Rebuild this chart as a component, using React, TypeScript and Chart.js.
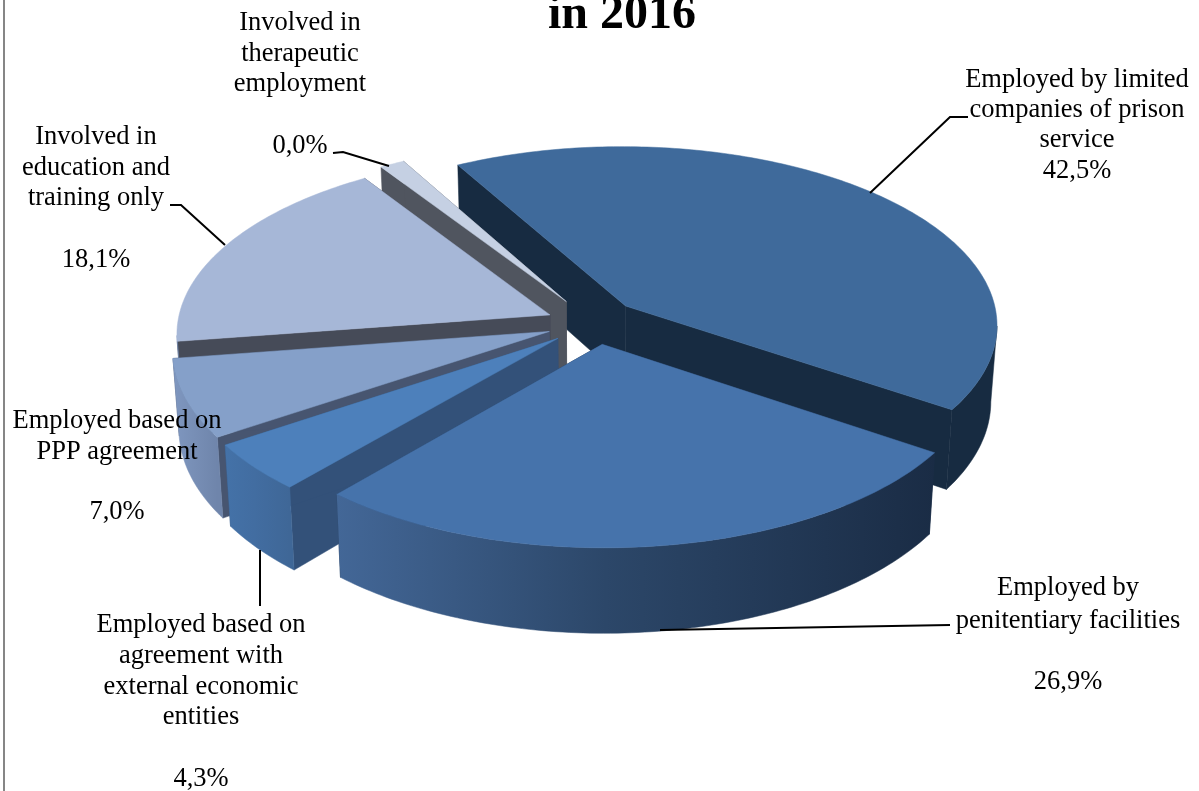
import React, { useEffect, useRef } from "react";
import { Chart, registerables } from "chart.js";
Chart.register(...registerables);

const categories = [
  "Employed by limited companies of prison service",
  "Employed by penitentiary facilities",
  "Employed based on agreement with external economic entities",
  "Employed based on PPP agreement",
  "Involved in education and training only",
  "Involved in therapeutic employment",
];
const sliceValues = [42.5, 26.9, 4.3, 7.0, 18.1, 1.2];
const shareLabels = ["42,5%", "26,9%", "4,3%", "7,0%", "18,1%", "0,0%"];
const explosions = [15.5, 12, 10, 10, 10, 15];
const titleText = "in 2016";

const topColors = ["#3f6a9b", "#4673ab", "#4d80bb", "#85a0c9", "#a6b7d7", "#c5d0e3"];
const radialColors = ["#172b41", "#1b2e48", "#335179", "#475570", "#464b58", "#50555f"];
const wallLeft = ["#172b41", "#436797", "#4472a8", "#7f97c0", "#7f97c0", "#50555f"];
const wallMid = ["#172b41", "#2c4769", "#426da1", "#788fb6", "#788fb6", "#50555f"];
const wallRight = ["#172b41", "#1a2c45", "#3f6797", "#6f85ab", "#6f85ab", "#50555f"];
const drawOrder = [0, 5, 4, 3, 2, 1];
const nudgeU = [-0.004, 0.03, 0.003, -0.002, -0.003, 0.027];
const nudgeV = [0.002, 0.012, -0.008, 0, 0.016, 0.004];

const CX = 585, CY = 325, RX = 373, RY = 179, PERSP = 0.1, DEPTH = 76, SHRINK = 0.985;

const labelBlocks = [
  { x: 1077, lines: ["Employed by limited", "companies of prison", "service", shareLabels[0]], ys: [87, 117, 147, 178] },
  { x: 1068, lines: ["Employed by", "penitentiary facilities", shareLabels[1]], ys: [595, 628, 689] },
  { x: 201, lines: ["Employed based on", "agreement with", "external economic", "entities", shareLabels[2]], ys: [632, 663, 694, 724, 786] },
  { x: 117, lines: ["Employed based on", "PPP agreement", shareLabels[3]], ys: [428, 459, 519] },
  { x: 96, lines: ["Involved in", "education and", "training only", shareLabels[4]], ys: [144, 175, 205, 267] },
  { x: 300, lines: ["Involved in", "therapeutic", "employment", shareLabels[5]], ys: [30, 61, 91, 153] },
];
const leaders = [
  [[870, 193], [950, 117], [968, 117]],
  [[660, 630], [950, 625]],
  [[260, 550], [260, 606]],
  [[170, 205], [181, 205], [225, 245]],
  [[333, 153], [343, 152], [389, 166]],
];

function project(u: number, v: number, bottom: boolean) {
  const w = 1 + PERSP * v;
  let x = CX + (RX * u) / w;
  let y = CY - (RY * v) / w;
  if (bottom) {
    x = CX + (x - CX) * SHRINK;
    y += DEPTH / w;
  }
  return [x, y];
}

const pie3d = {
  id: "pie3d",
  beforeDatasetDraw(chart: any) {
    const ctx = chart.ctx;
    const arcs = chart.getDatasetMeta(0).data;
    for (const i of drawOrder) {
      const arc = arcs[i];
      const { startAngle: a0, endAngle: a1 } = arc.getProps(["startAngle", "endAngle"], true);
      const mid = (a0 + a1) / 2;
      const e = arc.options.offset / 100;
      const ox = e * Math.cos(mid) + nudgeU[i], oy = -e * Math.sin(mid) + nudgeV[i];
      const at = (a: number, r: number, b: boolean) =>
        project(ox + r * Math.cos(a), oy - r * Math.sin(a), b);
      const poly = (pts: number[][], fill: any) => {
        ctx.beginPath();
        pts.forEach((p, k) => (k ? ctx.lineTo(p[0], p[1]) : ctx.moveTo(p[0], p[1])));
        ctx.closePath();
        ctx.fillStyle = fill;
        ctx.fill();
        ctx.strokeStyle = fill;
        ctx.lineWidth = 0.5;
        ctx.stroke();
      };
      const steps = Math.max(4, Math.ceil((a1 - a0) * 60));
      const arcPts = (b: boolean) => {
        const out = [];
        for (let s = 0; s <= steps; s++) out.push(at(a0 + ((a1 - a0) * s) / steps, 1, b));
        return out;
      };
      const topArc = arcPts(false), botArc = arcPts(true);
      // radial walls
      poly([at(a0, 0, false), at(a0, 1, false), at(a0, 1, true), at(a0, 0, true)], radialColors[i]);
      poly([at(a1, 0, false), at(a1, 1, false), at(a1, 1, true), at(a1, 0, true)], radialColors[i]);
      // outer wall: only the stretch of the rim that faces the viewer
      let first = -1, last = -1;
      for (let s = 0; s < steps; s++) {
        if (topArc[s + 1][0] < topArc[s][0]) {
          if (first < 0) first = s;
          last = s + 1;
        }
      }
      if (first >= 0) {
        const t = topArc.slice(first, last + 1);
        const b = botArc.slice(first, last + 1).reverse();
        const xs = t.map((p) => p[0]);
        const g = ctx.createLinearGradient(Math.min(...xs), 0, Math.max(...xs), 0);
        g.addColorStop(0, wallLeft[i]);
        g.addColorStop(0.45, wallMid[i]);
        g.addColorStop(1, wallRight[i]);
        poly([...t, ...b], g);
      }
      // top face
      poly([at(a0, 0, false), ...topArc], topColors[i]);
    }
    return false;
  },
  afterDraw(chart: any) {
    const ctx = chart.ctx;
    ctx.save();
    ctx.strokeStyle = "#868686";
    ctx.lineWidth = 2;
    ctx.beginPath();
    ctx.moveTo(4, 0);
    ctx.lineTo(4, 791);
    ctx.stroke();
    ctx.strokeStyle = "#000";
    ctx.lineWidth = 2;
    for (const l of leaders) {
      ctx.beginPath();
      l.forEach((p, k) => (k ? ctx.lineTo(p[0], p[1]) : ctx.moveTo(p[0], p[1])));
      ctx.stroke();
    }
    ctx.fillStyle = "#000";
    ctx.textAlign = "center";
    ctx.textBaseline = "alphabetic";
    ctx.font = '26.5px "Liberation Serif"';
    for (const b of labelBlocks) b.lines.forEach((t, k) => ctx.fillText(t, b.x, b.ys[k]));
    ctx.font = 'bold 48px "Liberation Serif"';
    ctx.fillText(titleText, 622, 28);
    ctx.restore();
  },
};

export default function App() {
  const ref = useRef<HTMLCanvasElement>(null);
  useEffect(() => {
    const chart = new Chart(ref.current as HTMLCanvasElement, {
      type: "pie",
      data: {
        labels: categories,
        datasets: [{ data: sliceValues, backgroundColor: topColors, offset: explosions, borderWidth: 0 }],
      },
      options: {
        animation: false,
        responsive: false,
        rotation: -29,
        plugins: { legend: { display: false }, tooltip: { enabled: false } },
      },
      plugins: [pie3d],
    } as any);
    return () => chart.destroy();
  }, []);
  return (
    <div style={{ position: "absolute", left: 0, top: 0, width: 1199, height: 791, background: "#fff", overflow: "hidden" }}>
      <canvas ref={ref} width={1199} height={791} style={{ display: "block" }} />
    </div>
  );
}
